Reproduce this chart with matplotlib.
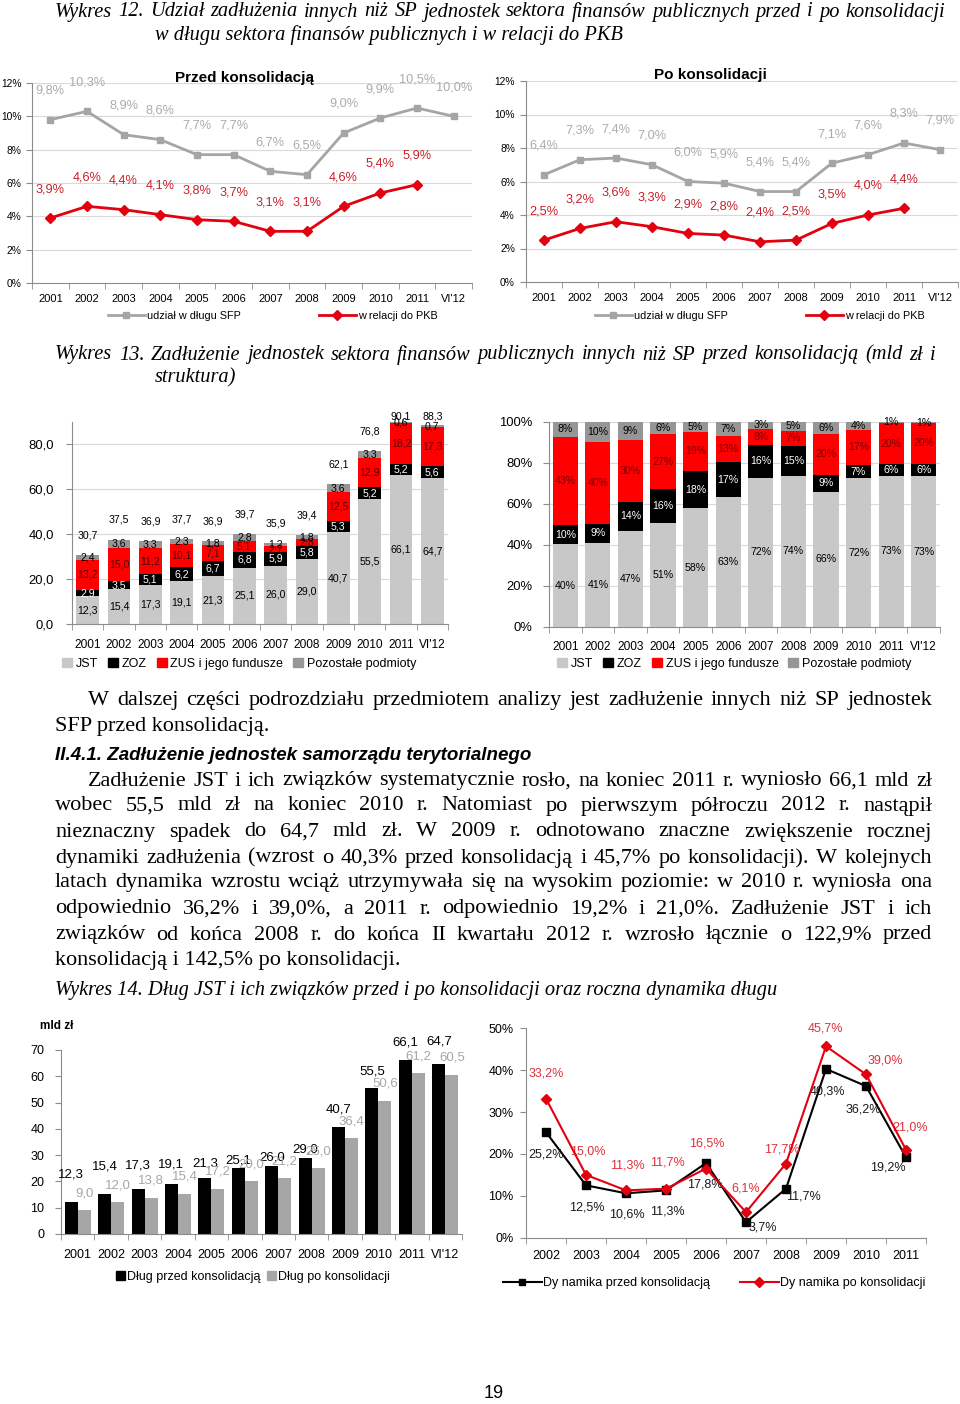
import matplotlib
matplotlib.use('Agg')
import matplotlib.pyplot as plt
import numpy as np
from matplotlib.lines import Line2D
from matplotlib.patches import Patch

years = ['2001', '2002', '2003', '2004', '2005', '2006', '2007', '2008',
         '2009', '2010', '2011', "VI'12"]

# Wykres 12: udzial w dlugu SFP / w relacji do PKB (%)
share_before = [9.8, 10.3, 8.9, 8.6, 7.7, 7.7, 6.7, 6.5, 9.0, 9.9, 10.5, 10.0]
gdp_before = [3.9, 4.6, 4.4, 4.1, 3.8, 3.7, 3.1, 3.1, 4.6, 5.4, 5.9]
share_after = [6.4, 7.3, 7.4, 7.0, 6.0, 5.9, 5.4, 5.4, 7.1, 7.6, 8.3, 7.9]
gdp_after = [2.5, 3.2, 3.6, 3.3, 2.9, 2.8, 2.4, 2.5, 3.5, 4.0, 4.4]

# Wykres 13: mld zl
jst = [12.3, 15.4, 17.3, 19.1, 21.3, 25.1, 26.0, 29.0, 40.7, 55.5, 66.1, 64.7]
zoz = [2.9, 3.5, 5.1, 6.2, 6.7, 6.8, 5.9, 5.8, 5.3, 5.2, 5.2, 5.6]
zus = [13.2, 15.0, 11.2, 10.1, 7.1, 5.1, 2.7, 2.8, 12.5, 12.9, 18.2, 17.3]
other = [2.4, 3.6, 3.3, 2.3, 1.8, 2.8, 1.2, 1.8, 3.6, 3.3, 0.6, 0.7]
totals = [30.7, 37.5, 36.9, 37.7, 36.9, 39.7, 35.9, 39.4, 62.1, 76.8, 90.1, 88.3]

# Wykres 13: struktura (%)
jst_pct = [40.1, 41.0, 46.9, 50.7, 57.7, 63.2, 72.4, 73.6, 65.6, 72.3, 73.4, 73.3]
zoz_pct = [9.6, 9.3, 13.8, 16.4, 18.2, 17.1, 16.4, 14.7, 8.6, 6.8, 5.8, 6.3]
zus_pct = [42.7, 40.0, 30.3, 26.8, 19.2, 12.8, 7.8, 7.1, 20.0, 16.8, 20.2, 19.6]
other_pct = [7.6, 9.7, 9.0, 6.1, 4.9, 6.9, 3.4, 4.6, 5.8, 4.1, 0.6, 0.8]

# Wykres 14: dlug JST (mld zl) i dynamika (%)
debt_before = [12.3, 15.4, 17.3, 19.1, 21.3, 25.1, 26.0, 29.0, 40.7, 55.5, 66.1, 64.7]
debt_after = [9.0, 12.0, 13.8, 15.4, 17.2, 20.0, 21.2, 25.0, 36.4, 50.6, 61.2, 60.5]
dyn_years = ['2002', '2003', '2004', '2005', '2006', '2007', '2008', '2009', '2010', '2011']
dyn_before = [25.2, 12.5, 10.6, 11.3, 17.8, 3.7, 11.7, 40.3, 36.2, 19.2]
dyn_after = [33.2, 15.0, 11.3, 11.7, 16.5, 6.1, 17.7, 45.7, 39.0, 21.0]

W, H = 960, 1404
SANS = 'Liberation Sans'
SERIF = 'Liberation Serif'
AXC = '#8c8c8c'
GRID = '#d9d9d9'
C_JST = '#c8c8c8'
C_OTH = '#969696'
RED = '#ff0000'
PT = 72 / 100  # pixels -> points

plt.rcParams['font.family'] = SANS
fig = plt.figure(figsize=(W / 100, H / 100), dpi=100)
fig.patch.set_facecolor('white')


def box(l, t, r, b):
    return [l / W, 1 - b / H, (r - l) / W, (b - t) / H]


def ftext(x, y, s, **kw):
    kw.setdefault('va', 'center')
    return fig.text(x / W, 1 - y / H, s, **kw)


def pl(v, d=1):
    return f'{v:.{d}f}'.replace('.', ',')


def cat_axis(ax, n, labels, size, pad):
    x = np.arange(n)
    ax.set_xlim(-0.5, n - 0.5)
    ax.set_xticks(x)
    ax.set_xticklabels(labels, fontsize=size)
    ax.set_xticks(np.arange(-0.5, n), minor=True)
    ax.tick_params(axis='x', which='major', length=0, pad=pad)
    ax.tick_params(axis='x', which='minor', length=4, color=AXC)
    ax.tick_params(axis='y', length=4, color=AXC)
    for s in ['top', 'right']:
        ax.spines[s].set_visible(False)
    for s in ['left', 'bottom']:
        ax.spines[s].set_color(AXC)
    return x


# ---------------- Wykres 12 ----------------
def line_panel(rect, title, tx, ty, share, gdp, ypad, leg_x):
    ax = fig.add_axes(rect)
    x = cat_axis(ax, len(years), years, 8, 8)
    xg = np.arange(len(gdp))
    ax.plot(x, share, color='#a5a5a5', lw=2, marker='s', ms=5, zorder=3)
    ax.plot(xg, gdp, color='#e3000f', lw=2, marker='D', ms=5, zorder=3)
    for xi, v in zip(x, share):
        ax.annotate(pl(v) + '%', (xi, v), xytext=(0, 29 * PT), textcoords='offset points',
                    ha='center', va='center', color='#ababab', fontsize=9.2)
    for xi, v in zip(xg, gdp):
        ax.annotate(pl(v) + '%', (xi, v), xytext=(0, 29 * PT), textcoords='offset points',
                    ha='center', va='center', color='#c8202a', fontsize=9.2)
    ax.set_ylim(0, 12)
    ax.set_yticks(np.arange(0, 13, 2))
    ax.set_yticklabels([f'{t}%' for t in range(0, 13, 2)], fontsize=7.4)
    ax.tick_params(axis='y', pad=ypad)
    ax.grid(axis='y', color=GRID, lw=0.8)
    ax.set_axisbelow(True)
    ftext(tx, ty, title, ha='center', fontsize=11, fontweight='bold')
    handles = [Line2D([], [], color='#a5a5a5', lw=2, marker='s', ms=5),
               Line2D([], [], color='#e3000f', lw=2, marker='D', ms=5)]
    fig.legend(handles, ['udział w długu SFP', 'w relacji do PKB'], loc='center left',
               bbox_to_anchor=(leg_x / W, 1 - 316 / H), ncol=2, frameon=False,
               prop={'size': 7.8}, handlelength=3.4, handletextpad=0.2,
               columnspacing=7.2, borderpad=0, borderaxespad=0)


line_panel(box(32, 83, 472, 283), 'Przed konsolidacją', 245, 78,
           share_before, gdp_before, 3.5, 108)
line_panel(box(526, 81, 958, 282), 'Po konsolidacji', 710, 75,
           share_after, gdp_after, 4, 595)

# ---------------- Wykres 13 ----------------
leg13 = [Patch(color=C_JST), Patch(color='black'), Patch(color=RED), Patch(color=C_OTH)]
leg13_lab = ['JST', 'ZOZ', 'ZUS i jego fundusze', 'Pozostałe podmioty']


def stacked(ax, series, bw, fmt, size):
    x = np.arange(len(years))
    bottom = np.zeros(len(years))
    for vals, col, tcol in series:
        bars = ax.bar(x, vals, bw, bottom=bottom, color=col, zorder=2)
        ax.bar_label(bars, labels=[fmt(v) for v in vals], label_type='center',
                     color=tcol, fontsize=size)
        bottom += np.array(vals)
    return x


ax3 = fig.add_axes(box(72, 421.5, 448, 624))
cat_axis(ax3, len(years), years, 8.6, 11)
x3 = stacked(ax3, [(jst, C_JST, 'black'), (zoz, 'black', 'white'),
                   (zus, RED, '#5a0000'), (other, C_OTH, 'black')],
             0.73, lambda v: pl(v), 7.6)
for xi, t in zip(x3, totals):
    ax3.text(xi, min(t + 8.8, 92.4), pl(t), ha='center', va='center', fontsize=7.6)
ax3.set_ylim(0, 90)
ax3.set_yticks(np.arange(0, 81, 20))
ax3.set_yticklabels([pl(t) for t in range(0, 81, 20)], fontsize=9.4)
ax3.tick_params(axis='y', pad=9)
ax3.grid(axis='y', color=GRID, lw=0.8)
ax3.set_axisbelow(True)

ax4 = fig.add_axes(box(549, 421.7, 940, 626.7))
cat_axis(ax4, len(years), years, 8.6, 10)
stacked(ax4, [(jst_pct, C_JST, 'black'), (zoz_pct, 'black', 'white'),
              (zus_pct, RED, '#7a0000'), (other_pct, C_OTH, 'black')],
        0.77, lambda v: f'{v:.0f}%', 7.6)
ax4.set_ylim(0, 100)
ax4.set_yticks(np.arange(0, 101, 20))
ax4.set_yticklabels([f'{t}%' for t in range(0, 101, 20)], fontsize=9.4)
ax4.tick_params(axis='y', pad=8)
ax4.grid(axis='y', color=GRID, lw=0.8)
ax4.set_axisbelow(True)

for lx in (62, 557):
    fig.legend(leg13, leg13_lab, loc='center left', bbox_to_anchor=(lx / W, 1 - 664 / H),
               ncol=4, frameon=False, prop={'size': 9},
               handlelength=0.8, handleheight=0.8, handletextpad=0.3,
               columnspacing=0.8, borderpad=0, borderaxespad=0)

# ---------------- Wykres 14 ----------------
ax5 = fig.add_axes(box(61, 1050, 462, 1234))
x5 = cat_axis(ax5, len(years), years, 9, 11)
bw5 = 0.39
ax5.bar(x5 - bw5 / 2, debt_before, bw5, color='black')
ax5.bar(x5 + bw5 / 2, debt_after, bw5, color='#a6a6a6')
black_lift = [27, 27, 23, 19, 15, 8, 8, 8, 18, 17, 18, 22]
for xi, v, lift in zip(x5, debt_before, black_lift):
    ax5.annotate(pl(v), (xi - bw5 / 2, v), xytext=(0, lift * PT), textcoords='offset points',
                 ha='center', va='center', fontsize=9.5)
for xi, v in zip(x5, debt_after):
    ax5.annotate(pl(v), (xi + bw5 / 2, v), xytext=(0, 17 * PT), textcoords='offset points',
                 ha='center', va='center', fontsize=9.5, color='#a6a6a6')
ax5.set_ylim(0, 70)
ax5.set_yticks(np.arange(0, 71, 10))
ax5.set_yticklabels([str(t) for t in range(0, 71, 10)], fontsize=9)
ax5.tick_params(axis='y', pad=8)
ftext(57, 1026, 'mld zł', ha='center', fontsize=8.5, fontweight='bold')
fig.legend([Patch(color='black'), Patch(color='#a6a6a6')],
           ['Dług przed konsolidacją', 'Dług po konsolidacji'], loc='center left',
           bbox_to_anchor=(116 / W, 1 - 1277 / H), ncol=2, frameon=False,
           prop={'size': 9}, handlelength=0.7, handleheight=0.7,
           handletextpad=0.2, columnspacing=0.5, borderpad=0, borderaxespad=0)

ax6 = fig.add_axes(box(526, 1028.3, 926, 1237.7))
x6 = cat_axis(ax6, len(dyn_years), dyn_years, 9, 9)
ax6.plot(x6, dyn_before, color='black', lw=1.5, marker='s', ms=6, zorder=3)
ax6.plot(x6, dyn_after, color='#e3000f', lw=1.5, marker='D', ms=5.5, zorder=4)
red_off = [(0, 25), (2, 23), (1, 25), (1, 26), (1, 25), (0, 24), (-4, 14), (-1, 18), (19, 14), (4, 22)]
black_off = [(0, -22), (1, -22), (1, -21), (1, -21), (-1, -21), (17, -5), (17, -8), (1, -23), (-3, -23), (-18, -10)]
for xi, v, (dx, dy) in zip(x6, dyn_after, red_off):
    ax6.annotate(pl(v) + '%', (xi, v), xytext=(dx * PT, dy * PT), textcoords='offset points',
                 ha='center', va='center', fontsize=9, color='#e0303a')
for xi, v, (dx, dy) in zip(x6, dyn_before, black_off):
    ax6.annotate(pl(v) + '%', (xi, v), xytext=(dx * PT, dy * PT), textcoords='offset points',
                 ha='center', va='center', fontsize=9, color='#1a1a1a')
ax6.set_ylim(0, 50)
ax6.set_yticks(np.arange(0, 51, 10))
ax6.set_yticklabels([f'{t}%' for t in range(0, 51, 10)], fontsize=9)
ax6.tick_params(axis='y', pad=5)
fig.legend([Line2D([], [], color='black', lw=1.5, marker='s', ms=5),
            Line2D([], [], color='#e3000f', lw=1.5, marker='D', ms=5)],
           ['Dy namika przed konsolidacją', 'Dy namika po konsolidacji'], loc='center left',
           bbox_to_anchor=(503 / W, 1 - 1283 / H), ncol=2, frameon=False,
           prop={'size': 9}, handlelength=3.1, handletextpad=0.1,
           columnspacing=2.4, borderpad=0, borderaxespad=0)

# ---------------- page text ----------------
renderer = fig.canvas.get_renderer()


def width(s, **kw):
    t = fig.text(0, 0, s, **kw)
    w = t.get_window_extent(renderer).width
    t.remove()
    return w


def fit_size(lines, base, **kw):
    # largest size at which every justified line still fits its width
    return base * min((x1 - x0) / width(s, fontsize=base, **kw) for x0, x1, s in lines) * 0.985


def justify(y, x0, x1, s, **kw):
    words = s.split(' ')
    ts = [ftext(0, y, w, ha='left', **kw) for w in words]
    widths = [t.get_window_extent(renderer).width for t in ts]
    gap = (x1 - x0 - sum(widths)) / (len(words) - 1)
    x = x0
    for t, w in zip(ts, widths):
        t.set_x(x / W)
        x += w + gap


cap12 = ('Wykres 12. Udział zadłużenia innych niż SP jednostek sektora finansów '
         'publicznych przed i po konsolidacji')
cap13 = ('Wykres 13. Zadłużenie jednostek sektora finansów publicznych innych niż SP '
         'przed konsolidacją (mld zł i')
cap_size = fit_size([(55, 945, cap12), (55, 935, cap13)], 15, family=SERIF, style='italic')
CAP = dict(family=SERIF, fontsize=cap_size, style='italic')

justify(12, 55, 945, cap12, **CAP)
ftext(155, 35, 'w długu sektora finansów publicznych i w relacji do PKB', **CAP)
justify(355, 55, 935, cap13, **CAP)
ftext(155, 378, 'struktura)', **CAP)

body = [
    (700, 88, 'W dalszej części podrozdziału przedmiotem analizy jest zadłużenie innych niż SP jednostek', True),
    (726, 55, 'SFP przed konsolidacją.', False),
    (781, 88, 'Zadłużenie JST i ich związków systematycznie rosło, na koniec 2011 r. wyniosło 66,1 mld zł', True),
    (806, 55, 'wobec 55,5 mld zł na koniec 2010 r. Natomiast po pierwszym półroczu 2012 r. nastąpił', True),
    (832, 55, 'nieznaczny spadek do 64,7 mld zł. W 2009 r. odnotowano znaczne zwiększenie rocznej', True),
    (858, 55, 'dynamiki zadłużenia (wzrost o 40,3% przed konsolidacją i 45,7% po konsolidacji). W kolejnych', True),
    (883, 55, 'latach dynamika wzrostu wciąż utrzymywała się na wysokim poziomie: w 2010 r. wyniosła ona', True),
    (909, 55, 'odpowiednio 36,2% i 39,0%, a 2011 r. odpowiednio 19,2% i 21,0%. Zadłużenie JST i ich', True),
    (935, 55, 'związków od końca 2008 r. do końca II kwartału 2012 r. wzrosło łącznie o 122,9% przed', True),
    (960, 55, 'konsolidacją i 142,5% po konsolidacji.', False),
]
body_size = fit_size([(x0, 932, s) for _, x0, s, j in body if j], 15, family=SERIF)
BODY = dict(family=SERIF, fontsize=body_size)
for y, x0, s, just in body:
    if just:
        justify(y, x0, 932, s, **BODY)
    else:
        ftext(x0, y, s, **BODY)

ftext(55, 755, 'II.4.1. Zadłużenie jednostek samorządu terytorialnego',
      fontsize=13.5, fontweight='bold', style='italic')
ftext(55, 991, 'Wykres 14. Dług JST i ich związków przed i po konsolidacji oraz roczna dynamika długu', **CAP)
ftext(494, 1394, '19', ha='center', fontsize=13)

fig.savefig('out.png', dpi=100, facecolor='white')
